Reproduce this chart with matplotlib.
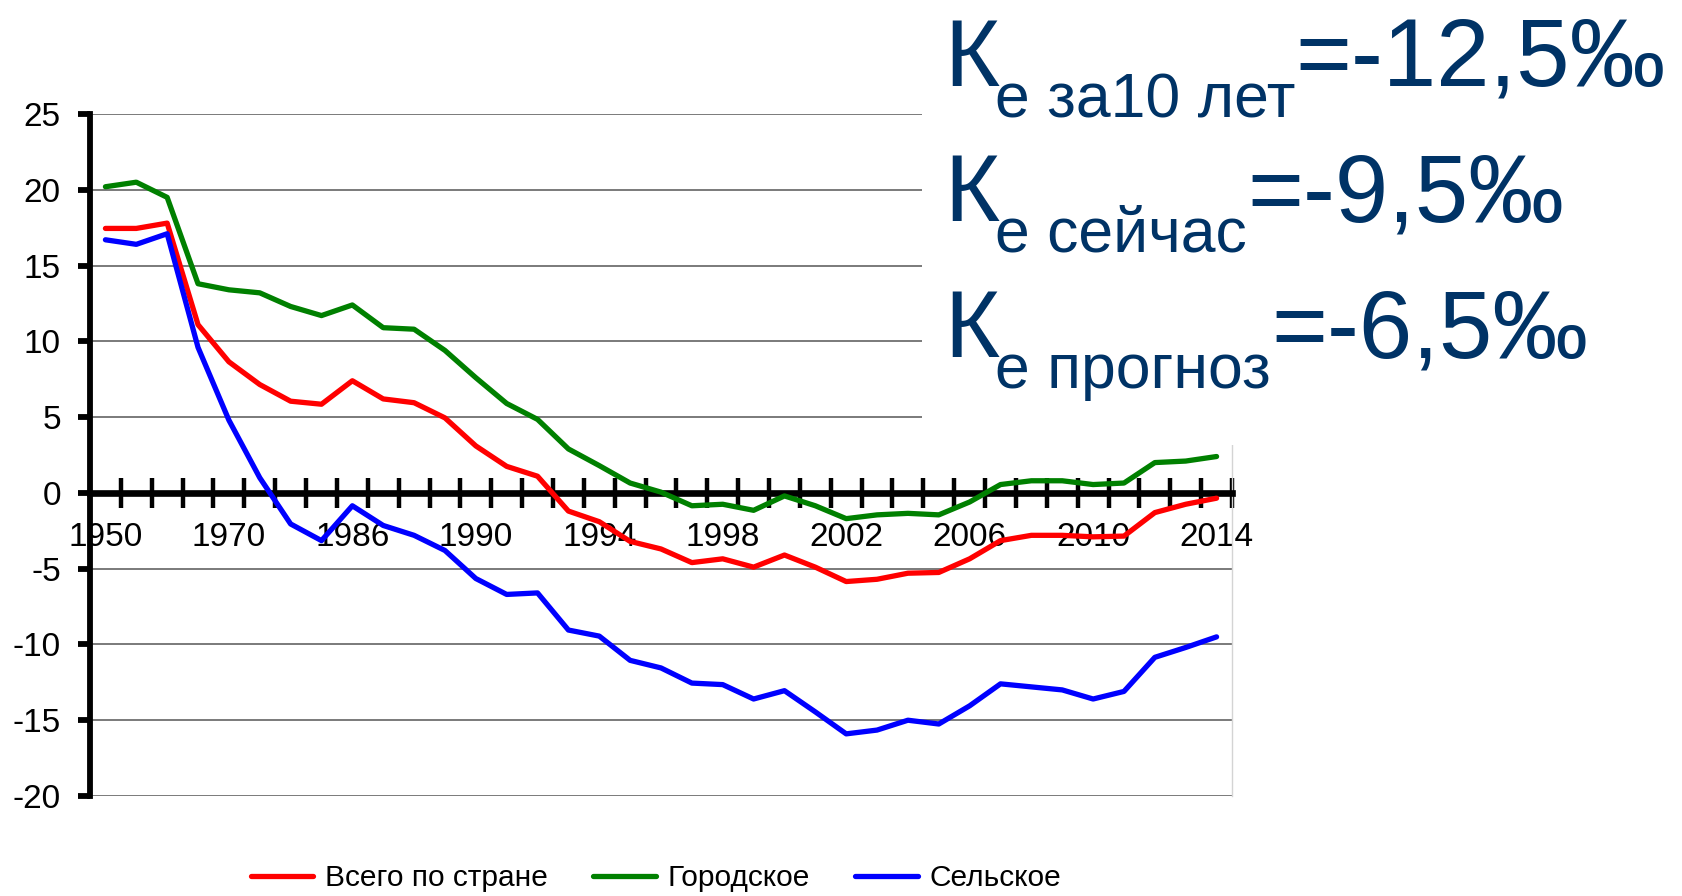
import matplotlib
matplotlib.use('Agg')
import matplotlib.pyplot as plt
from matplotlib.patches import Rectangle

plt.rcParams['font.family'] = ['Liberation Sans', 'DejaVu Sans']
plt.rcParams['axes.unicode_minus'] = False

# categories: five-year steps up to 1985, then every year
years = ['1950', '1955', '1960', '1965', '1970', '1975', '1980', '1985',
         '1986', '1987', '1988', '1989', '1990', '1991', '1992', '1993',
         '1994', '1995', '1996', '1997', '1998', '1999', '2000', '2001',
         '2002', '2003', '2004', '2005', '2006', '2007', '2008', '2009',
         '2010', '2011', '2012', '2013', '2014']

total = [17.45, 17.45, 17.8, 11.1, 8.65, 7.15, 6.05, 5.85, 7.4, 6.2, 5.95,
         4.95, 3.1, 1.75, 1.1, -1.2, -1.9, -3.2, -3.7, -4.6, -4.35, -4.9,
         -4.1, -4.9, -5.85, -5.7, -5.3, -5.25, -4.35, -3.15, -2.8, -2.8,
         -2.9, -2.85, -1.3, -0.75, -0.35]
urban = [20.2, 20.5, 19.5, 13.8, 13.4, 13.2, 12.3, 11.7, 12.4, 10.9, 10.8,
         9.4, 7.6, 5.9, 4.85, 2.9, 1.8, 0.65, 0.05, -0.85, -0.75, -1.15,
         -0.2, -0.85, -1.7, -1.45, -1.35, -1.45, -0.6, 0.55, 0.8, 0.8,
         0.55, 0.65, 2.0, 2.1, 2.4]
rural = [16.7, 16.4, 17.1, 9.6, 4.8, 1.0, -2.05, -3.15, -0.85, -2.15, -2.8,
         -3.8, -5.65, -6.7, -6.6, -9.05, -9.45, -11.05, -11.55, -12.55,
         -12.65, -13.6, -13.05, -14.45, -15.9, -15.65, -15.0, -15.25,
         -14.05, -12.6, -12.8, -13.0, -13.6, -13.1, -10.85, -10.2, -9.5]

series_names = ['Всего по стране', 'Городское', 'Сельское']
series_colors = ['#ff0000', '#008000', '#0000ff']

rates = [('е за10 лет', '=-12,5‰'),
         ('е сейчас', '=-9,5‰'),
         ('е прогноз', '=-6,5‰')]

W, H = 1682, 896
fig = plt.figure(figsize=(W / 100, H / 100), dpi=100)
ax = fig.add_axes([90 / W, 1 - 796 / H, (1232 - 90) / W, (796 - 114) / H])

x = list(range(len(years)))
for vals, name, col in zip([total, urban, rural], series_names, series_colors):
    ax.plot(x, vals, color=col, lw=3.8, label=name, zorder=3,
            solid_joinstyle='round', solid_capstyle='round')

ax.set_xlim(-0.5, len(years) - 0.5)
ax.set_ylim(-20, 25)
ax.set_yticks(range(-20, 26, 5))
ax.yaxis.grid(True, color='#7a7a7a', lw=1.4)
ax.set_axisbelow(True)

# x axis runs along zero, tick marks sit between categories
ax.spines['bottom'].set_position(('data', 0))
ax.spines['bottom'].set_linewidth(4.8)
ax.spines['left'].set_linewidth(4.2)
ax.spines['top'].set_visible(False)
ax.spines['right'].set_color('#d4d4d4')
ax.spines['right'].set_linewidth(1)

ax.set_xticks(x[::4])
ax.set_xticklabels(years[::4])
ax.set_xticks([i + 0.5 for i in range(len(years))], minor=True)
ax.tick_params(axis='x', which='major', length=0, pad=21, labelsize=24)
ax.tick_params(axis='x', which='minor', direction='inout', length=22,
               width=3.2)
ax.tick_params(axis='y', length=9, width=4.2, pad=12, labelsize=24)

fig.legend(loc='center', bbox_to_anchor=(656 / W, 1 - 878 / H), ncol=3,
           frameon=False, fontsize=21.5, handlelength=2.1,
           handletextpad=0.4, columnspacing=1.5)

# white panel with the coefficients over the upper right corner
fig.patches.append(Rectangle((922 / W, 1 - 445 / H), 1 - 922 / W, 445 / H,
                             transform=fig.transFigure, fc='white',
                             ec='none', zorder=5))

navy = '#003366'
renderer = fig.canvas.get_renderer()
baselines = [86, 221, 357]
for (sub, val), yb in zip(rates, baselines):
    k = fig.text(944 / W, 1 - yb / H, 'К', fontsize=68, color=navy,
                 va='baseline', ha='left', zorder=6)
    kx = k.get_window_extent(renderer).x1
    s = fig.text((kx - 4) / W, 1 - (yb + 31) / H, sub, fontsize=45,
                 color=navy, va='baseline', ha='left', zorder=6)
    sx = s.get_window_extent(renderer).x1
    fig.text(sx / W, 1 - yb / H, val, fontsize=69, color=navy,
             va='baseline', ha='left', zorder=6)

fig.savefig('out.png', dpi=100, facecolor='white')
